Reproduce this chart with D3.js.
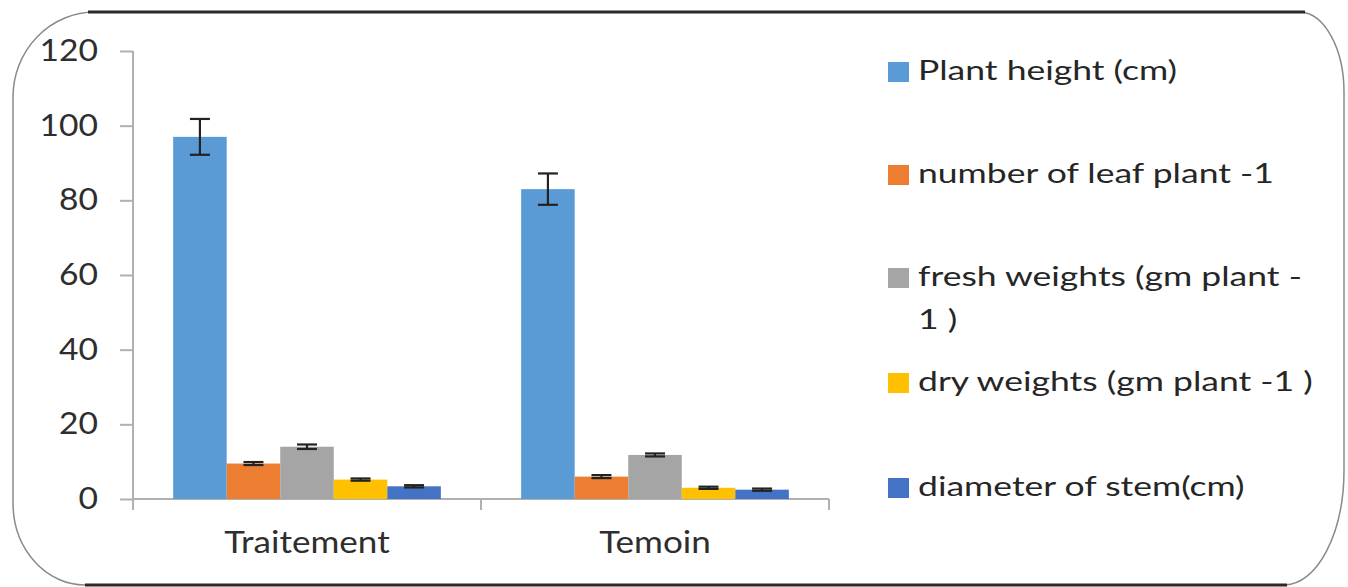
<!DOCTYPE html>
<html>
<head>
<meta charset="utf-8">
<script src="https://cdn.jsdelivr.net/npm/d3@7"></script>
<style>
  html, body { margin: 0; padding: 0; background: #fff; }
  svg { display: block; }
  text { font-family: Lato, "Open Sans", sans-serif; }
</style>
</head>
<body>
<svg id="chart" width="1348" height="587"></svg>
<script>
// ---- data ----
const categories = ["Traitement", "Temoin"];
const seriesNames = ["Plant height (cm)", "number of leaf plant -1", "fresh weights (gm plant -1 )", "dry weights (gm plant -1 )", "diameter of stem(cm)"];
const legendLines = [["Plant height (cm)"], ["number of leaf plant -1"], ["fresh weights (gm plant -", "1 )"], ["dry weights (gm plant -1 )"], ["diameter of stem(cm)"]];
const plantHeight = [97, 83];
const leafNumber = [9.5, 6];
const freshWeight = [14, 11.8];
const dryWeight = [5.2, 3];
const stemDiameter = [3.4, 2.5];
const plantHeightErr = [4.8, 4.2];
const leafNumberErr = [0.4, 0.4];
const freshWeightErr = [0.6, 0.4];
const dryWeightErr = [0.3, 0.3];
const stemDiameterErr = [0.3, 0.3];
const yTicks = [0, 20, 40, 60, 80, 100, 120];
const colors = ["#5B9BD5", "#ED7D31", "#A5A5A5", "#FFC000", "#4472C4"];

const seriesValues = [plantHeight, leafNumber, freshWeight, dryWeight, stemDiameter];
const seriesErrors = [plantHeightErr, leafNumberErr, freshWeightErr, dryWeightErr, stemDiameterErr];

const svg = d3.select("#chart");

// ---- frame ----
svg.append("path")
  .attr("d", "M95,12 H1300 A45,80 0 0 1 1344,92 V470 A60,115 0 0 1 1285,585 H85 A72,82 0 0 1 13,503 V97 A82,85 0 0 1 95,12 Z")
  .attr("fill", "#fff").attr("stroke", "#8a8a8a").attr("stroke-width", 1.5);
svg.append("line").attr("x1", 88).attr("x2", 1305).attr("y1", 12).attr("y2", 12)
  .attr("stroke", "#2a2a2a").attr("stroke-width", 3);
svg.append("line").attr("x1", 85).attr("x2", 1287).attr("y1", 585).attr("y2", 585)
  .attr("stroke", "#2a2a2a").attr("stroke-width", 3);

// ---- scales ----
const x0 = d3.scaleBand().domain(categories).range([133, 829]).paddingInner(0).paddingOuter(0);
const x1 = d3.scaleBand().domain(d3.range(seriesNames.length)).range([0, x0.bandwidth()]).paddingInner(0).paddingOuter(0.75);
const y = d3.scaleLinear().domain([0, 120]).range([499, 51]);

const axisColor = "#b0b0b0";

// y axis
const yAxis = svg.append("g").attr("transform", "translate(133,0)")
  .call(d3.axisLeft(y).tickValues(yTicks).tickSize(13).tickPadding(22).tickFormat(d3.format("d")));
yAxis.select(".domain").remove();
yAxis.selectAll(".tick line").attr("stroke", axisColor).attr("stroke-width", 2);
yAxis.selectAll(".tick text")
  .attr("fill", "#2e2e2e")
  .style("font-size", "30px")
  .attr("transform", "scale(1.12,1)")
  .attr("x", -35 / 1.12);
svg.append("line").attr("x1", 133).attr("x2", 133).attr("y1", y(120)).attr("y2", 510)
  .attr("stroke", axisColor).attr("stroke-width", 2);

// x axis
svg.append("line").attr("x1", 133).attr("x2", 829).attr("y1", y(0)).attr("y2", y(0))
  .attr("stroke", axisColor).attr("stroke-width", 2);
const sepTicks = categories.map(c => x0(c)).concat([x0(categories[categories.length - 1]) + x0.bandwidth()]);
svg.selectAll("line.sep").data(sepTicks).enter().append("line")
  .attr("class", "sep")
  .attr("x1", d => d).attr("x2", d => d).attr("y1", y(0)).attr("y2", 510)
  .attr("stroke", axisColor).attr("stroke-width", 2);
svg.selectAll("text.cat").data(categories).enter().append("text")
  .attr("class", "cat")
  .attr("transform", d => `translate(${x0(d) + x0.bandwidth() / 2},553) scale(1.17,1)`)
  .attr("text-anchor", "middle")
  .attr("fill", "#2e2e2e")
  .style("font-size", "30px")
  .text(d => d);

// ---- bars ----
const barData = [];
seriesValues.forEach((vals, si) => {
  vals.forEach((v, ci) => {
    barData.push({ si, cat: categories[ci], v, e: seriesErrors[si][ci] });
  });
});
svg.append("g").selectAll("rect").data(barData).enter().append("rect")
  .attr("x", d => x0(d.cat) + x1(d.si))
  .attr("y", d => y(d.v))
  .attr("width", x1.bandwidth())
  .attr("height", d => y(0) - y(d.v))
  .attr("fill", d => colors[d.si]);

// ---- error bars ----
const eg = svg.append("g").attr("stroke", "#222").attr("stroke-width", 2.2);
barData.forEach(d => {
  const cx = x0(d.cat) + x1(d.si) + x1.bandwidth() / 2;
  const hw = 10;
  eg.append("line").attr("x1", cx).attr("x2", cx).attr("y1", y(d.v + d.e)).attr("y2", y(d.v - d.e));
  eg.append("line").attr("x1", cx - hw).attr("x2", cx + hw).attr("y1", y(d.v + d.e)).attr("y2", y(d.v + d.e));
  eg.append("line").attr("x1", cx - hw).attr("x2", cx + hw).attr("y1", y(d.v - d.e)).attr("y2", y(d.v - d.e));
});

// ---- legend ----
const legendSquareY = [62, 165, 268, 373, 478];
const legendLineGap = 43;
const lg = svg.append("g");
legendLines.forEach((lines, i) => {
  lg.append("rect").attr("x", 888).attr("y", legendSquareY[i]).attr("width", 21).attr("height", 20)
    .attr("fill", colors[i]);
  lines.forEach((t, k) => {
    lg.append("text")
      .attr("transform", `translate(918,${legendSquareY[i] + 18 + k * legendLineGap}) scale(1.34,1)`)
      .attr("fill", "#262626")
      .style("font-size", "26.5px")
      .text(t);
  });
});
</script>
</body>
</html>
